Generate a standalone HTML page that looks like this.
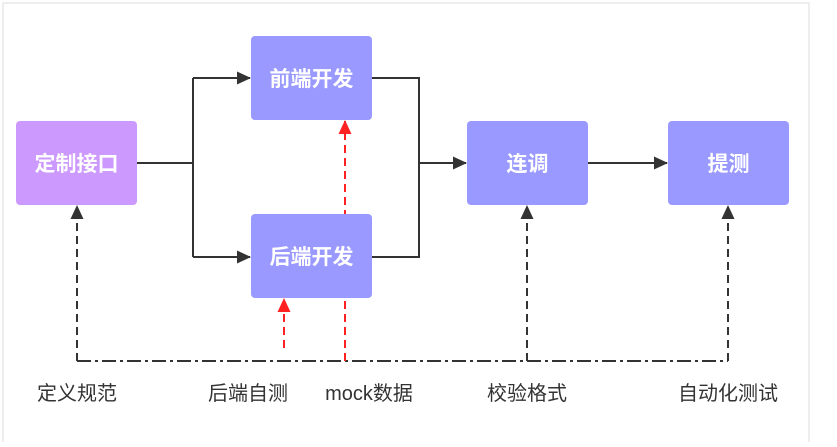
<!DOCTYPE html>
<html><head><meta charset="utf-8"><style>
html,body{margin:0;padding:0;background:#fff;}
svg text{font-family:"Liberation Sans","Noto Sans CJK SC",sans-serif;}
</style></head><body>
<svg width="837" height="442" viewBox="0 0 837 442" xmlns="http://www.w3.org/2000/svg">
<defs>
<marker id="ab" markerWidth="14" markerHeight="13" refX="13" refY="6.5" orient="auto" markerUnits="userSpaceOnUse"><path d="M0,0 L14,6.5 L0,13 z" fill="#333"/></marker>
<marker id="ar" markerWidth="14" markerHeight="13" refX="13" refY="6.5" orient="auto" markerUnits="userSpaceOnUse"><path d="M0,0 L14,6.5 L0,13 z" fill="#f22"/></marker>
</defs>
<rect x="3" y="3" width="806" height="445" fill="#fff" stroke="#ddd" stroke-width="1"/>
<g stroke="#333" stroke-width="2" fill="none">
<path d="M137,163 H193 M193,78 V257"/>
<path d="M193,78 H250" marker-end="url(#ab)"/>
<path d="M193,257 H250" marker-end="url(#ab)"/>
<path d="M372,78 H419 V257 H372"/>
<path d="M419,163 H466" marker-end="url(#ab)"/>
<path d="M588,163 H667" marker-end="url(#ab)"/>
</g>
<g stroke="#333" stroke-width="2" fill="none">
<path d="M77,361 H728" stroke-dasharray="14,4,3,4"/>
<path d="M77,361 V206" stroke-dasharray="8,5" marker-end="url(#ab)"/>
<path d="M527,361 V206" stroke-dasharray="8,5" marker-end="url(#ab)"/>
<path d="M728,361 V206" stroke-dasharray="8,5" marker-end="url(#ab)"/>
</g>
<g stroke="#f22" stroke-width="2" fill="none">
<path d="M284,348 V299" stroke-dasharray="8,5" marker-end="url(#ar)"/>
<path d="M345,361 V121" stroke-dasharray="8,5" marker-end="url(#ar)"/>
</g>
<rect x="16" y="121" width="121" height="84" rx="4" fill="#cc99ff"/>
<rect x="251" y="36" width="121" height="84" rx="4" fill="#9999ff"/>
<rect x="251" y="214" width="121" height="84" rx="4" fill="#9999ff"/>
<rect x="467" y="121" width="121" height="84" rx="4" fill="#9999ff"/>
<rect x="668" y="121" width="121" height="84" rx="4" fill="#9999ff"/>
<g fill="#fff" font-size="21" font-weight="bold" text-anchor="middle">
<text x="76.5" y="171">定制接口</text>
<text x="311.5" y="86">前端开发</text>
<text x="311.5" y="264">后端开发</text>
<text x="527.5" y="171">连调</text>
<text x="728.5" y="171">提测</text>
</g>
<g fill="#333" font-size="20" text-anchor="middle">
<text x="77" y="400">定义规范</text>
<text x="248" y="400">后端自测</text>
<text x="369" y="400">mock数据</text>
<text x="527" y="400">校验格式</text>
<text x="728" y="400">自动化测试</text>
</g>
</svg>
</body></html>
